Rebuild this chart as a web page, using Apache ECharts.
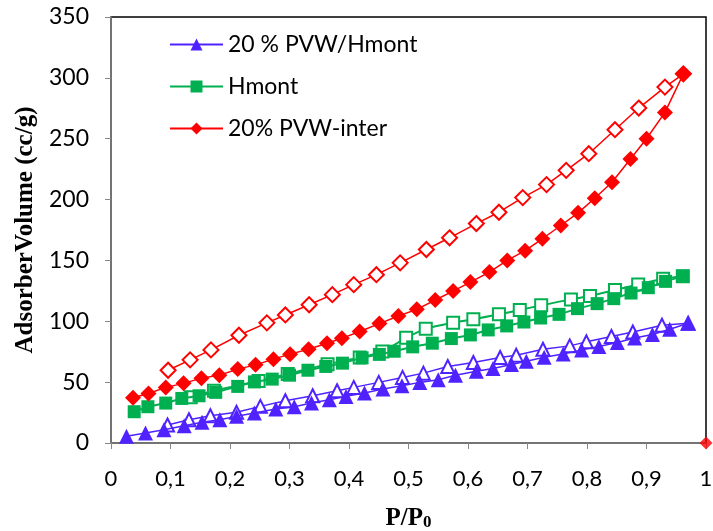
<!DOCTYPE html>
<html>
<head>
<meta charset="utf-8">
<script src="https://cdn.jsdelivr.net/npm/echarts@6/dist/echarts.min.js"></script>
<style>
html,body{margin:0;padding:0;background:#fff;}
#chart{width:713px;height:531px;}
</style>
</head>
<body>
<div id="chart"></div>
<script>
// ---- Data (P/P0, volume cc/g) ----
const seriesNames = ['20 % PVW/Hmont', 'Hmont', '20% PVW-inter'];
const xTickValues = [0, 0.1, 0.2, 0.3, 0.4, 0.5, 0.6, 0.7, 0.8, 0.9, 1];
const yTickValues = [0, 50, 100, 150, 200, 250, 300, 350];

// 20 % PVW/Hmont — adsorption (filled triangles)
const blueAdsX = [0.026,0.058,0.089,0.123,0.153,0.183,0.211,0.241,0.277,0.308,0.337,0.367,0.395,0.426,0.457,0.489,0.519,0.550,0.579,0.614,0.642,0.673,0.698,0.728,0.760,0.791,0.820,0.851,0.880,0.910,0.939,0.970];
const blueAdsY = [5.5,8.2,10.9,14.2,17,19.1,21.9,24.6,27.9,29.8,32.8,35.5,38.3,41,44.3,47,49.8,51.9,55.7,59,61.2,64.5,67.2,70.5,73.2,76.5,79.3,82.5,86.3,89.1,93.4,98.4];
// 20 % PVW/Hmont — desorption (open triangles)
const blueDesX = [0.095,0.131,0.167,0.211,0.251,0.293,0.339,0.380,0.408,0.450,0.490,0.525,0.566,0.609,0.654,0.681,0.726,0.771,0.799,0.841,0.877,0.926,0.970];
const blueDesY = [14.8,19.1,22.4,25.2,30.1,34.7,38.8,42.9,45.7,49.8,53.9,57.4,62.9,66.1,70.2,72.1,77,79.8,83.1,87.5,91.2,96.7,98.4];

// Hmont — adsorption (filled squares)
const greenAdsX = [0.039,0.062,0.092,0.119,0.148,0.176,0.213,0.241,0.271,0.300,0.331,0.361,0.389,0.422,0.451,0.476,0.507,0.540,0.572,0.604,0.634,0.665,0.694,0.722,0.753,0.784,0.817,0.845,0.874,0.903,0.932,0.961];
const greenAdsY = [25.7,29.8,32.8,36.6,38.8,41.6,46.5,50.2,52.5,55.7,59.8,62.9,65.6,70,72.8,75.4,79,82,85.8,88.8,92.9,96.2,99.4,102.7,105.7,110.4,114.5,118.6,123.2,127.6,132.8,137.1];
// Hmont — desorption (open squares)
const greenDesX = [0.134,0.173,0.248,0.297,0.364,0.418,0.456,0.496,0.529,0.575,0.609,0.652,0.687,0.723,0.773,0.805,0.847,0.886,0.928,0.961];
const greenDesY = [37.5,42.9,51,56.6,64.8,70.2,75.2,86.4,93.8,98.8,101.6,105.7,109.3,113.1,118,120.7,125.7,130.3,134.9,137.1];

// 20% PVW-inter — adsorption (filled diamonds)
const redAdsX = [0.037,0.063,0.092,0.122,0.152,0.182,0.213,0.243,0.273,0.301,0.332,0.363,0.388,0.418,0.451,0.483,0.514,0.545,0.575,0.604,0.636,0.666,0.696,0.725,0.756,0.785,0.813,0.842,0.873,0.900,0.931,0.962];
const redAdsY = [37.1,40.7,45.7,49,53.3,55.7,60.7,64.2,68.9,73,77,82,86,91.6,98.1,104.3,109.8,117.5,124.8,132.2,140.4,150,158,167.8,178.7,189.1,201.1,214.2,233.4,250,271.6,303.3];
// 20% PVW-inter — desorption (open diamonds)
const redDesX = [0.096,0.133,0.168,0.215,0.262,0.293,0.333,0.372,0.408,0.446,0.486,0.530,0.569,0.614,0.652,0.692,0.732,0.765,0.803,0.847,0.887,0.931,0.962];
const redDesY = [59.8,68.3,76.5,88.5,98.7,105.2,113.6,121.9,130.1,138.3,148,159,168.6,180.3,189.6,201.6,212.3,224,237.7,257.4,275.2,292.4,303.3];
// stray point on the right axis
const redExtraX = [1];
const redExtraY = [0];

// ---- build chart ----
const zip = (xs, ys) => xs.map((x, i) => [x, ys[i]]);
const BLUE = '#5022FF', GREEN = '#00B050', RED = '#FF0000';

function ads(name, color, symbol, size, xs, ys, lw) {
  return {
    name: name, type: 'line', data: zip(xs, ys),
    symbol: symbol, symbolSize: size,
    lineStyle: { color: color, width: lw },
    itemStyle: { color: color },
    animation: false, z: 3
  };
}
function des(name, color, symbol, size, xs, ys, lw, smooth) {
  return {
    name: name, type: 'line', data: zip(xs, ys),
    symbol: symbol, symbolSize: size, smooth: smooth || false,
    lineStyle: { color: color, width: lw },
    itemStyle: { color: color, borderColor: color, borderWidth: 1.3 },
    animation: false, z: 2
  };
}

const fmtX = v => (v === 0 || v === 1) ? String(v) : v.toFixed(1).replace('.', ',');

const chart = echarts.init(document.getElementById('chart'), null, { renderer: 'canvas' });
chart.setOption({
  backgroundColor: '#fff',
  animation: false,
  grid: {
    left: 111, right: 7, top: 17, bottom: 88,
    containLabel: false, outerBoundsMode: 'none',
    show: true, borderColor: '#000', borderWidth: 1.5, backgroundColor: 'transparent'
  },
  legend: {
    data: seriesNames.map(n => ({ name: n })),
    orient: 'vertical', left: 164, top: 27,
    itemWidth: 53, itemHeight: 15, itemGap: 17,
    textStyle: { fontFamily: 'Lato', fontSize: 23, color: '#000', lineHeight: 25 },
    selectedMode: false
  },
  xAxis: {
    type: 'value', min: 0, max: 1, interval: 0.1,
    name: 'P/P{s|0}', nameLocation: 'middle', nameGap: 63,
    nameTextStyle: {
      fontFamily: 'Liberation Serif', fontWeight: 'bold', fontSize: 25, color: '#000',
      rich: { s: { fontFamily: 'Liberation Serif', fontWeight: 'bold', fontSize: 17, color: '#000', verticalAlign: 'bottom', padding: [6, 0, 0, 0] } }
    },
    axisLine: { show: true, lineStyle: { color: '#868686', width: 1.5 } },
    axisTick: { show: true, inside: false, length: 6, lineStyle: { color: '#868686' } },
    axisLabel: { formatter: fmtX, fontFamily: 'Lato', fontSize: 22, color: '#000', margin: 25 },
    splitLine: { show: false }
  },
  yAxis: {
    type: 'value', min: 0, max: 350, interval: 50,
    name: 'AdsorberVolume (cc/g)', nameLocation: 'middle', nameGap: 70, nameRotate: 90,
    nameTextStyle: { fontFamily: 'Liberation Serif', fontWeight: 'bold', fontSize: 25, color: '#000' },
    axisLine: { show: true, lineStyle: { color: '#868686', width: 1.5 } },
    axisTick: { show: true, inside: false, length: 6, lineStyle: { color: '#868686' } },
    axisLabel: { fontFamily: 'Lato', fontSize: 23, color: '#000', margin: 22,
      formatter: v => yTickValues.includes(v) ? String(v) : '' },
    splitLine: { show: false }
  },
  series: [
    des('blueDes', BLUE, 'emptyTriangle', 13, blueDesX, blueDesY, 1.5),
    ads(seriesNames[0], BLUE, 'triangle', 15, blueAdsX, blueAdsY, 1.5),
    des('greenDes', GREEN, 'emptyRect', 12, greenDesX, greenDesY, 2, 0.3),
    ads(seriesNames[1], GREEN, 'rect', 13, greenAdsX, greenAdsY, 2),
    des('redDes', RED, 'emptyDiamond', 15, redDesX, redDesY, 1.5),
    ads(seriesNames[2], RED, 'diamond', 16, redAdsX, redAdsY, 1.5),
    { name: 'redExtra', type: 'scatter', data: zip(redExtraX, redExtraY), symbol: 'diamond', symbolSize: 13,
      itemStyle: { color: RED }, clip: false, z: 5, animation: false }
  ]
});
</script>
</body>
</html>
